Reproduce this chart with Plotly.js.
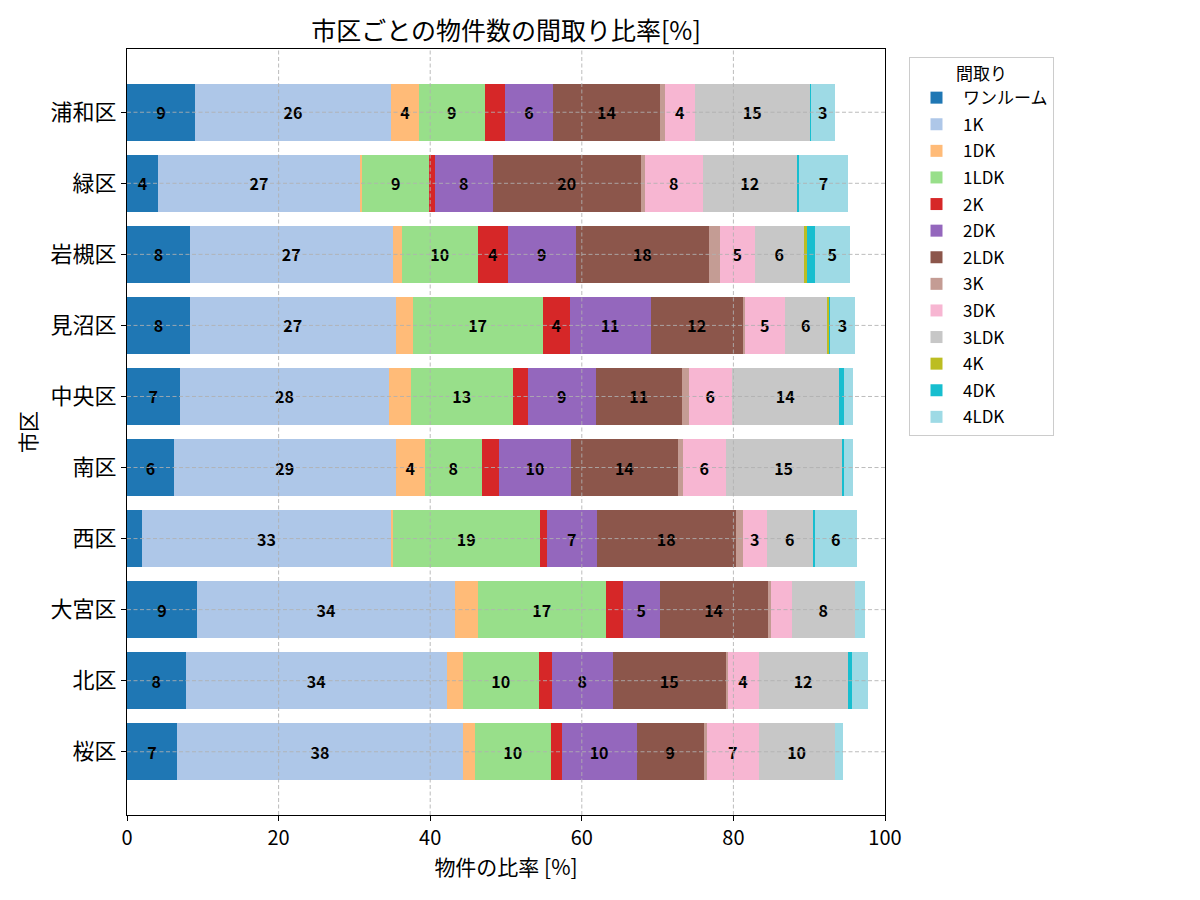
<!DOCTYPE html>
<html>
<head>
<meta charset="utf-8">
<script src="https://cdn.plot.ly/plotly-3.0.1.min.js"></script>
<style>
  html, body { margin: 0; padding: 0; background: #ffffff; }
  #chart { width: 1200px; height: 900px; }
</style>
</head>
<body>
<div id="chart"></div>
<script>
// 市区 (top to bottom)
const districts = ['浦和区', '緑区', '岩槻区', '見沼区', '中央区', '南区', '西区', '大宮区', '北区', '桜区'];

// 間取り categories, in stacking order
const layoutTypes = ['ワンルーム', '1K', '1DK', '1LDK', '2K', '2DK', '2LDK', '3K', '3DK', '3LDK', '4K', '4DK', '4LDK'];

// share of listings [%] per 間取り, one value per 市区
const oneRoom = [8.93, 4.05, 8.27, 8.27, 6.95, 6.16, 1.94, 9.20, 7.74, 6.56];
const k1      = [25.95, 26.74, 26.78, 27.17, 27.67, 29.28, 32.94, 34.12, 34.44, 37.82];
const dk1     = [3.60, 0.26, 1.19, 2.24, 2.81, 3.83, 0.17, 2.95, 2.11, 1.49];
const ldk1    = [8.71, 8.79, 10.03, 17.15, 13.45, 7.52, 19.39, 16.88, 10.02, 10.01];
const k2      = [2.64, 0.75, 3.95, 3.56, 1.98, 2.24, 0.93, 2.24, 1.72, 1.45];
const dk2     = [6.40, 7.66, 8.98, 10.69, 8.97, 9.56, 6.60, 4.88, 8.05, 9.91];
const ldk2    = [14.05, 19.52, 17.55, 12.14, 11.34, 14.05, 18.33, 14.24, 14.89, 8.88];
const k3      = [0.66, 0.53, 1.45, 0.26, 0.93, 0.66, 0.93, 0.40, 0.26, 0.40];
const dk3     = [3.96, 7.65, 4.61, 5.28, 5.67, 5.67, 3.16, 2.77, 4.09, 6.80];
const ldk3    = [15.17, 12.40, 6.47, 5.54, 14.12, 15.31, 6.07, 8.35, 11.75, 10.04];
const k4      = [0, 0, 0.40, 0.26, 0.10, 0, 0, 0, 0, 0];
const dk4     = [0.15, 0.26, 1.05, 0.12, 0.60, 0.27, 0.27, 0, 0.53, 0];
const ldk4    = [3.14, 6.55, 4.61, 3.40, 1.18, 1.18, 5.57, 1.30, 2.11, 1.06];

const seriesValues = [oneRoom, k1, dk1, ldk1, k2, dk2, ldk2, k3, dk3, ldk3, k4, dk4, ldk4];

// tab20-derived palette, one colour per 間取り
const colors = ['#1f77b4', '#aec7e8', '#ffbb78', '#98df8a', '#d62728', '#9467bd', '#8c564b',
                '#c49c94', '#f7b6d2', '#c7c7c7', '#bcbd22', '#17becf', '#9edae5'];

const xTicks = [0, 20, 40, 60, 80, 100];

const FONT = '"Noto Sans CJK JP", "Noto Sans", sans-serif';

// segments of 3% or more carry a rounded value label
const traces = layoutTypes.map((name, i) => ({
  type: 'bar',
  orientation: 'h',
  name: name,
  legendgroup: name,
  y: districts,
  x: seriesValues[i],
  text: seriesValues[i].map(v => (v >= 3 ? String(Math.round(v)) : '')),
  texttemplate: '%{text}',
  textposition: 'inside',
  insidetextanchor: 'middle',
  textangle: 0,
  constraintext: 'none',
  textfont: { family: FONT, size: 16, color: '#000000', weight: 'bold' },
  marker: { color: colors[i], line: { width: 0 } },
  hoverinfo: 'skip'
}));

// dashed grid drawn over the bars
const gridStyle = { color: 'rgba(176,176,176,0.85)', width: 1, dash: '4px,2.5px' };
const shapes = [];
xTicks.slice(1, -1).forEach(t => {
  shapes.push({ type: 'line', layer: 'above', xref: 'x', yref: 'paper', x0: t, x1: t, y0: 0, y1: 1, line: gridStyle });
});
districts.forEach(d => {
  shapes.push({ type: 'line', layer: 'above', xref: 'paper', yref: 'y', x0: 0, x1: 1, y0: d, y1: d, line: gridStyle });
});

const layout = {
  width: 1200,
  height: 900,
  margin: { l: 127, r: 315, t: 49, b: 85, pad: 0 },
  paper_bgcolor: '#ffffff',
  plot_bgcolor: '#ffffff',
  barmode: 'stack',
  bargap: 0.2,
  font: { family: FONT, color: '#000000' },
  title: {
    text: '市区ごとの物件数の間取り比率[%]',
    font: { family: FONT, size: 25, color: '#000000' },
    x: 0.5, xref: 'paper', xanchor: 'center',
    y: 1 - 31 / 900, yref: 'container', yanchor: 'middle'
  },
  xaxis: {
    range: [0, 100],
    tickvals: xTicks,
    ticktext: xTicks.map(String),
    tickfont: { family: FONT, size: 20 },
    ticks: 'outside', ticklen: 5, tickwidth: 1, tickcolor: '#000000',
    showgrid: false, zeroline: false,
    showline: true, linecolor: '#000000', linewidth: 1, mirror: true,
    title: { text: '物件の比率 [%]', font: { family: FONT, size: 21 }, standoff: 4 }
  },
  yaxis: {
    type: 'category',
    categoryorder: 'array',
    categoryarray: districts,
    range: [9.89, -0.89],
    tickfont: { family: FONT, size: 22 },
    ticks: 'outside', ticklen: 5, tickwidth: 1, tickcolor: '#000000',
    showgrid: false, zeroline: false,
    showline: true, linecolor: '#000000', linewidth: 1, mirror: true,
    title: { text: '市区', font: { family: FONT, size: 21 }, standoff: 8 }
  },
  legend: {
    x: (909 - 127) / 758, xanchor: 'left',
    y: (815 - 57) / 766, yanchor: 'top',
    bgcolor: '#ffffff',
    bordercolor: '#cccccc', borderwidth: 1,
    font: { family: FONT, size: 17, color: '#000000' },
    title: { text: '間取り', side: 'top center', font: { family: FONT, size: 17 } },
    traceorder: 'grouped',
    tracegroupgap: 1.5,
    itemwidth: 43
  },
  shapes: shapes
};

Plotly.newPlot('chart', traces, layout, { displayModeBar: false, staticPlot: true });
</script>
</body>
</html>
